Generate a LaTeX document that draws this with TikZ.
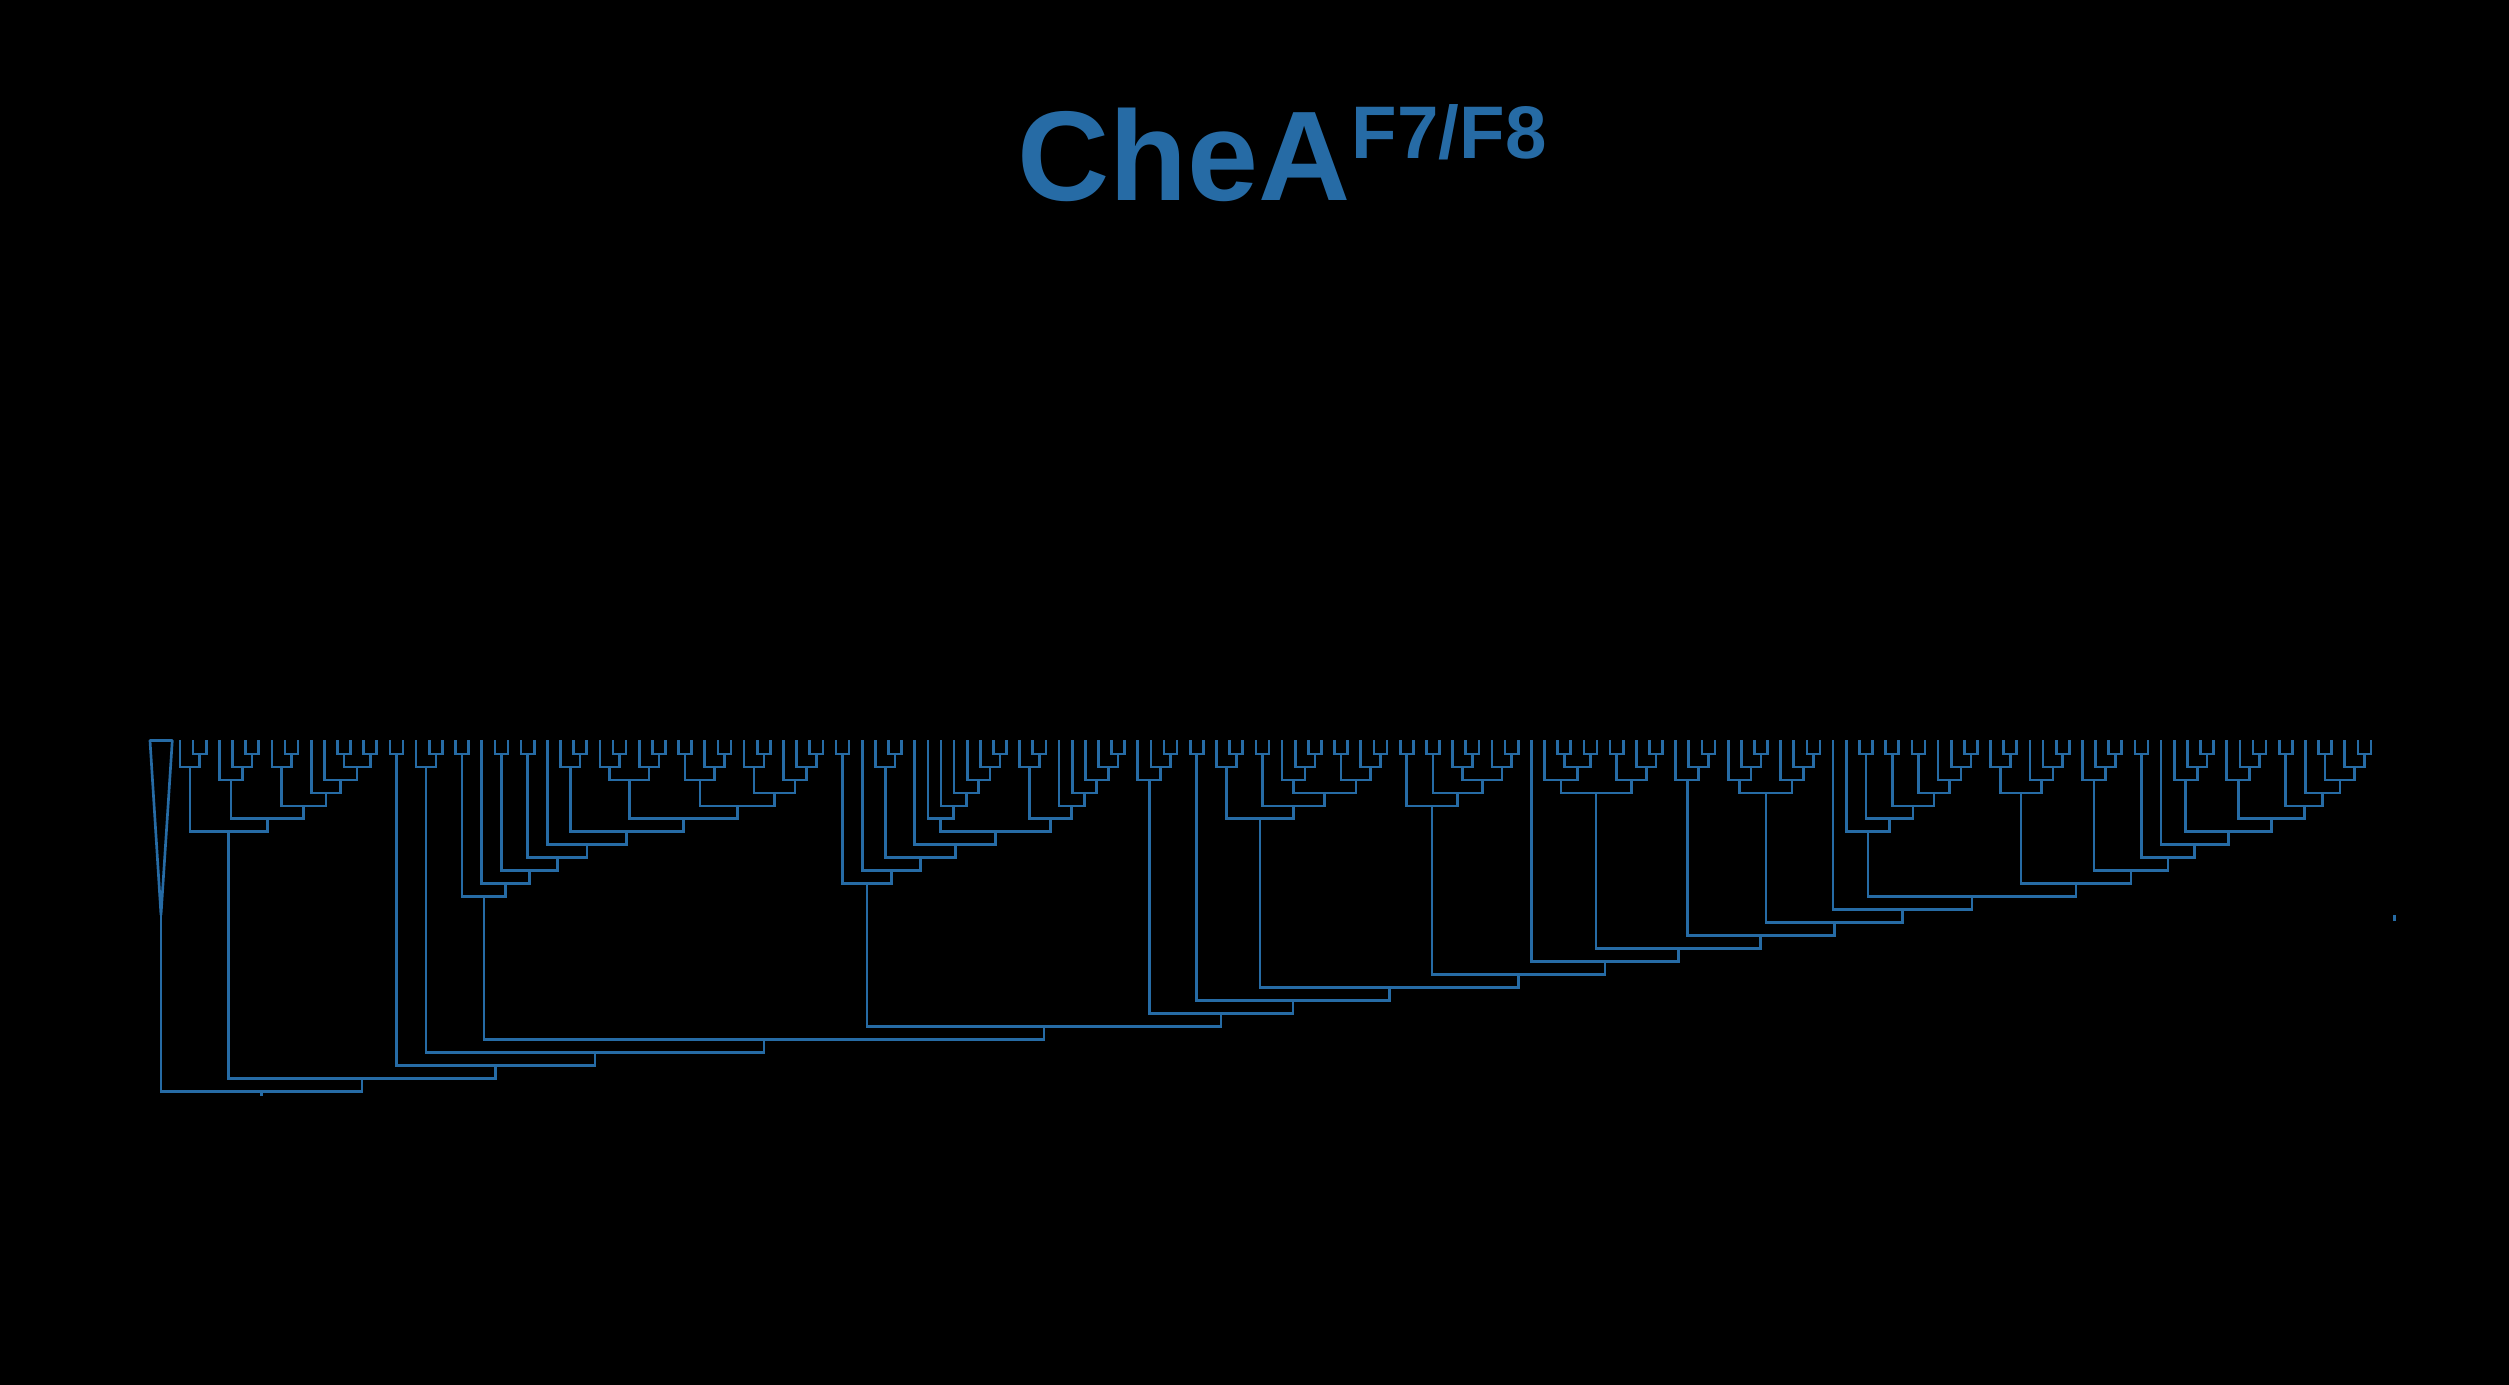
\documentclass[tikz,border=0pt]{standalone}
\usepackage{fontspec}
\setmainfont{Liberation Sans}
\usetikzlibrary{calc}
\definecolor{treeblue}{RGB}{38,107,165}
\tikzset{branch/.style={draw=treeblue,line width=0.8pt}}
\newcommand\cladeleaf[2]{%
  \pgfmathsetmacro\tmpx{180+13.12*#2}%
  \expandafter\xdef\csname tx@#1\endcsname{\tmpx}%
  \expandafter\xdef\csname tl@#1\endcsname{0}%
  \coordinate (#1) at (\tmpx,740.5);}
\newcommand\cladejoin[3]{%
  \pgfmathsetmacro\tmpx{(\csname tx@#2\endcsname+\csname tx@#3\endcsname)/2}%
  \pgfmathtruncatemacro\tmpl{1+max(\csname tl@#2\endcsname,\csname tl@#3\endcsname)}%
  \expandafter\xdef\csname tx@#1\endcsname{\tmpx}%
  \expandafter\xdef\csname tl@#1\endcsname{\tmpl}%
  \pgfmathsetmacro\tmpy{741+12.97*\tmpl}%
  \coordinate (#1) at (\tmpx,\tmpy);
  \draw[branch] (#2) |- (#1) -| (#3);}
\begin{document}
\begin{tikzpicture}[x=0.3pt,y=-0.3pt]
\useasboundingbox (0,0) rectangle (2509,1385);
\fill[black] (0,0) rectangle (2509,1385);
% title
\node[anchor=base west,inner sep=0,text=treeblue,font=\fontsize{38.3}{40}\selectfont\bfseries] (title) at (1017,200.7) {CheA};
\node[anchor=base west,inner sep=0,text=treeblue,font=\fontsize{22.35}{24}\selectfont\bfseries] (titlesup) at (1351.3,158.3) {F7/F8};
% leaves
\foreach \i in {0,...,167} {\cladeleaf{L\i}{\i}}
% collapsed clade
\coordinate (T) at (161,915);
\expandafter\xdef\csname tx@T\endcsname{161}
\expandafter\xdef\csname tl@T\endcsname{0}
\coordinate (Ta) at (150,740.5);
\coordinate (Tb) at (172.3,740.5);
\draw[branch,line join=bevel] (Ta) -- (Tb) -- (T) -- cycle;
% clade G
\cladejoin{a1}{L1}{L2}
\cladejoin{A}{L0}{a1}
\cladejoin{b1}{L5}{L6}
\cladejoin{b2}{L4}{b1}
\cladejoin{B}{L3}{b2}
\cladejoin{c1}{L8}{L9}
\cladejoin{C}{L7}{c1}
\cladejoin{d1}{L12}{L13}
\cladejoin{d2}{L14}{L15}
\cladejoin{d3}{d1}{d2}
\cladejoin{d4}{L11}{d3}
\cladejoin{D}{L10}{d4}
\cladejoin{E}{C}{D}
\cladejoin{F}{B}{E}
\cladejoin{G}{A}{F}
\cladejoin{H1}{L16}{L17}
\cladejoin{h20}{L19}{L20}
\cladejoin{H2}{L18}{h20}
% clade P
\cladejoin{p1}{L21}{L22}
\cladejoin{p2}{L24}{L25}
\cladejoin{p3}{L26}{L27}
\cladejoin{p4}{L30}{L31}
\cladejoin{p5}{L29}{p4}
\cladejoin{q1}{L33}{L34}
\cladejoin{q2}{L32}{q1}
\cladejoin{q3}{L36}{L37}
\cladejoin{q4}{L35}{q3}
\cladejoin{q5}{q2}{q4}
\cladejoin{r1}{L38}{L39}
\cladejoin{r2}{L41}{L42}
\cladejoin{r3}{L40}{r2}
\cladejoin{r4}{r1}{r3}
\cladejoin{s1}{L44}{L45}
\cladejoin{s2}{L43}{s1}
\cladejoin{s3}{L48}{L49}
\cladejoin{s4}{L47}{s3}
\cladejoin{s5}{L46}{s4}
\cladejoin{s6}{s2}{s5}
\cladejoin{r5}{r4}{s6}
\cladejoin{Y6}{q5}{r5}
\cladejoin{Y7}{p5}{Y6}
\cladejoin{Y8}{L28}{Y7}
\cladejoin{Y9}{p3}{Y8}
\cladejoin{Y10}{p2}{Y9}
\cladejoin{Y11}{L23}{Y10}
\cladejoin{P}{p1}{Y11}
% clade Q
\cladejoin{u1}{L50}{L51}
\cladejoin{u2}{L54}{L55}
\cladejoin{u3}{L53}{u2}
\cladejoin{v1}{L62}{L63}
\cladejoin{v2}{L61}{v1}
\cladejoin{v3}{L60}{v2}
\cladejoin{v4}{L59}{v3}
\cladejoin{v5}{L58}{v4}
\cladejoin{v6}{L57}{v5}
\cladejoin{w1}{L65}{L66}
\cladejoin{w2}{L64}{w1}
\cladejoin{w3}{L71}{L72}
\cladejoin{w4}{L70}{w3}
\cladejoin{w5}{L69}{w4}
\cladejoin{w6}{L68}{w5}
\cladejoin{w7}{L67}{w6}
\cladejoin{w8}{w2}{w7}
\cladejoin{v7}{v6}{w8}
\cladejoin{v8}{L56}{v7}
\cladejoin{v9}{u3}{v8}
\cladejoin{v10}{L52}{v9}
\cladejoin{Q}{u1}{v10}
% right-hand clades
\cladejoin{t1}{L75}{L76}
\cladejoin{t2}{L74}{t1}
\cladejoin{T21}{L73}{t2}
\cladejoin{T20}{L77}{L78}
\cladejoin{k1}{L80}{L81}
\cladejoin{k2}{L79}{k1}
\cladejoin{k3}{L82}{L83}
\cladejoin{k4}{L86}{L87}
\cladejoin{k5}{L85}{k4}
\cladejoin{k6}{L84}{k5}
\cladejoin{k7}{L88}{L89}
\cladejoin{k8}{L91}{L92}
\cladejoin{k9}{L90}{k8}
\cladejoin{k10}{k7}{k9}
\cladejoin{k11}{k6}{k10}
\cladejoin{k12}{k3}{k11}
\cladejoin{T19}{k2}{k12}
\cladejoin{m1}{L93}{L94}
\cladejoin{m2}{L95}{L96}
\cladejoin{m3}{L98}{L99}
\cladejoin{m4}{L97}{m3}
\cladejoin{m5}{L101}{L102}
\cladejoin{m6}{L100}{m5}
\cladejoin{m7}{m4}{m6}
\cladejoin{m8}{m2}{m7}
\cladejoin{T18}{m1}{m8}
\cladejoin{g1}{L105}{L106}
\cladejoin{g2}{L107}{L108}
\cladejoin{g3}{g1}{g2}
\cladejoin{g4}{L104}{g3}
\cladejoin{g5}{L109}{L110}
\cladejoin{g6}{L112}{L113}
\cladejoin{g7}{L111}{g6}
\cladejoin{g8}{g5}{g7}
\cladejoin{T16}{g4}{g8}
\cladejoin{h1}{L116}{L117}
\cladejoin{h2}{L115}{h1}
\cladejoin{T15}{L114}{h2}
\cladejoin{i1}{L120}{L121}
\cladejoin{i2}{L119}{i1}
\cladejoin{i3}{L118}{i2}
\cladejoin{i4}{L124}{L125}
\cladejoin{i5}{L123}{i4}
\cladejoin{i6}{L122}{i5}
\cladejoin{T14}{i3}{i6}
\cladejoin{j1}{L136}{L137}
\cladejoin{j2}{L135}{j1}
\cladejoin{j3}{L134}{j2}
\cladejoin{j4}{L132}{L133}
\cladejoin{j5}{j4}{j3}
\cladejoin{j6}{L130}{L131}
\cladejoin{j7}{j6}{j5}
\cladejoin{j8}{L128}{L129}
\cladejoin{j9}{j8}{j7}
\cladejoin{T12}{L127}{j9}
\cladejoin{e1}{L139}{L140}
\cladejoin{e2}{L138}{e1}
\cladejoin{e3}{L143}{L144}
\cladejoin{e4}{L142}{e3}
\cladejoin{e5}{L141}{e4}
\cladejoin{T11}{e2}{e5}
\cladejoin{f1}{L147}{L148}
\cladejoin{f2}{L146}{f1}
\cladejoin{T10}{L145}{f2}
\cladejoin{T9}{L149}{L150}
\cladejoin{o1}{L154}{L155}
\cladejoin{o2}{L153}{o1}
\cladejoin{T7}{L152}{o2}
\cladejoin{z1}{L158}{L159}
\cladejoin{z2}{L157}{z1}
\cladejoin{z3}{L156}{z2}
\cladejoin{z4}{L160}{L161}
\cladejoin{z5}{L166}{L167}
\cladejoin{z6}{L165}{z5}
\cladejoin{z7}{L163}{L164}
\cladejoin{z8}{z7}{z6}
\cladejoin{z9}{L162}{z8}
\cladejoin{z10}{z4}{z9}
\cladejoin{X6}{z3}{z10}
% backbone
\cladejoin{X7}{T7}{X6}
\cladejoin{X8}{L151}{X7}
\cladejoin{X9}{T9}{X8}
\cladejoin{X10}{T10}{X9}
\cladejoin{X11}{T11}{X10}
\cladejoin{X12}{T12}{X11}
\cladejoin{X13}{L126}{X12}
\cladejoin{X14}{T14}{X13}
\cladejoin{X15}{T15}{X14}
\cladejoin{X16}{T16}{X15}
\cladejoin{X17}{L103}{X16}
\cladejoin{X18}{T18}{X17}
\cladejoin{X19}{T19}{X18}
\cladejoin{X20}{T20}{X19}
\cladejoin{X21}{T21}{X20}
\cladejoin{X22}{Q}{X21}
\cladejoin{X23}{P}{X22}
\cladejoin{X24}{H2}{X23}
\cladejoin{X25}{H1}{X24}
\cladejoin{X26}{G}{X25}
\cladejoin{R}{T}{X26}
\coordinate (Rt) at ($(R)+(0,5)$);
\draw[branch] (R) -- (Rt);
% isolated tick at right
\coordinate (S1) at (2394.5,915);
\coordinate (S2) at (2394.5,921);
\draw[branch] (S1) -- (S2);
\end{tikzpicture}
\end{document}
